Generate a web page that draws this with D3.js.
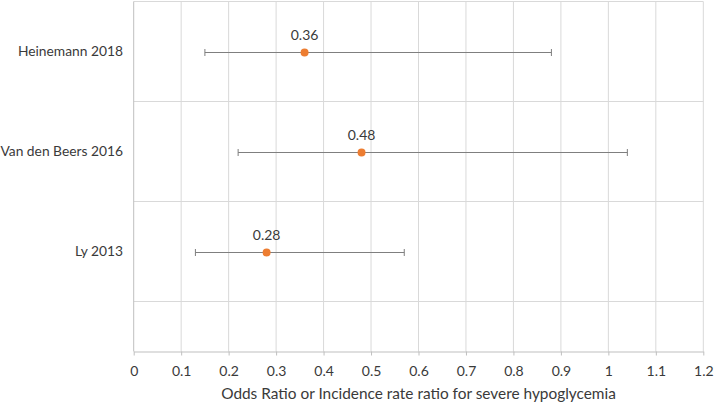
<!DOCTYPE html>
<html><head><meta charset="utf-8">
<script src="https://cdn.jsdelivr.net/npm/d3@7"></script>
<style>body{margin:0;background:#fff;} svg{display:block;}</style>
</head><body>
<svg id="c" width="714" height="404"></svg>
<script>
const studies = ["Heinemann 2018", "Van den Beers 2016", "Ly 2013"];
const yPos = [3, 2, 1];
const estimates = [0.36, 0.48, 0.28];
const lower = [0.15, 0.22, 0.13];
const upper = [0.88, 1.04, 0.57];
const xTicks = [0, 0.1, 0.2, 0.3, 0.4, 0.5, 0.6, 0.7, 0.8, 0.9, 1, 1.1, 1.2];
const yGrid = [0.5, 1.5, 2.5, 3.5];
const xTitle = "Odds Ratio or Incidence rate ratio for severe hypoglycemia";

const svg = d3.select("#c");
const font = "Lato, 'Open Sans', sans-serif";
const textColor = "#3a3a3a";
const x = d3.scaleLinear().domain([0, 1.2]).range([133.7, 703.3]);
const y = d3.scaleLinear().domain([0, 3.5]).range([351.5, 1.5]);

// vertical gridlines
svg.append("g").selectAll("line").data(xTicks.slice(1)).join("line")
  .attr("x1", d => x(d)).attr("x2", d => x(d))
  .attr("y1", y(3.5)).attr("y2", y(0))
  .attr("stroke", "#d9d9d9").attr("stroke-width", 1);
// horizontal gridlines
svg.append("g").selectAll("line").data(yGrid).join("line")
  .attr("x1", x(0)).attr("x2", x(1.2))
  .attr("y1", d => y(d)).attr("y2", d => y(d))
  .attr("stroke", "#d9d9d9").attr("stroke-width", 1);
// left axis line
svg.append("line").attr("x1", x(0)).attr("x2", x(0)).attr("y1", y(3.5)).attr("y2", y(0))
  .attr("stroke", "#bfbfbf");

// x axis
const xAxis = d3.axisBottom(x).tickValues(xTicks).tickFormat(d => d3.format("")(d)).tickSizeInner(4).tickSizeOuter(0).tickPadding(11);
const gx = svg.append("g").attr("transform", `translate(0,${y(0)})`).call(xAxis);
gx.select(".domain").attr("stroke", "#bfbfbf");
gx.selectAll(".tick line").attr("stroke", "#bfbfbf");
gx.selectAll(".tick text").attr("font-family", font).attr("font-size", 14).attr("fill", textColor);

// axis title
svg.append("text").attr("x", x(0.6)).attr("y", 399)
  .attr("text-anchor", "middle").attr("font-family", font).attr("font-size", 15.4)
  .attr("fill", textColor).text(xTitle);

// study labels
svg.append("g").selectAll("text").data(studies).join("text")
  .attr("x", 123).attr("y", (d, i) => y(yPos[i]))
  .attr("dy", "0.35em").attr("text-anchor", "end")
  .attr("font-family", font).attr("font-size", 13.8).attr("fill", textColor)
  .text(d => d);

// error bars
const eb = svg.append("g").attr("stroke", "#7f7f7f").attr("stroke-width", 1);
studies.forEach((s, i) => {
  const yy = Math.round(y(yPos[i])) + 0.5;
  eb.append("line").attr("x1", x(lower[i])).attr("x2", x(upper[i])).attr("y1", yy).attr("y2", yy);
  [lower[i], upper[i]].forEach(v => {
    eb.append("line").attr("x1", x(v)).attr("x2", x(v)).attr("y1", yy - 3.5).attr("y2", yy + 3.5);
  });
});

// points
svg.append("g").selectAll("circle").data(estimates).join("circle")
  .attr("cx", d => x(d)).attr("cy", (d, i) => Math.round(y(yPos[i])) + 0.5)
  .attr("r", 4).attr("fill", "#ED7D31");

// data labels
svg.append("g").selectAll("text").data(estimates).join("text")
  .attr("x", d => x(d)).attr("y", (d, i) => y(yPos[i]) - 12)
  .attr("text-anchor", "middle").attr("font-family", font).attr("font-size", 14)
  .attr("fill", textColor).text(d => d3.format(".2f")(d));
</script>
</body></html>
